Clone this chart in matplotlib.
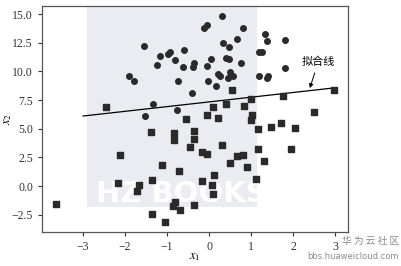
import numpy as np
import matplotlib
matplotlib.use("Agg")
import matplotlib.pyplot as plt
from matplotlib.patches import Rectangle

plt.rcParams['font.family'] = ['Liberation Serif', 'Noto Sans CJK SC']
plt.rcParams['mathtext.fontset'] = 'stix'

# class 1 samples (circles)
x1_pos = [-1.55, -1.90, -1.78, -1.53, -1.33, -1.25, -1.18, -0.98, -0.92, -0.80,
          -0.75, -0.63, -0.60, -0.77, -0.41, -0.36, -0.38, 0.30, -0.04, -0.12,
          0.80, 0.66, 0.33, 0.47, 0.40, 0.48, 0.05, 0.75, -0.05, 0.21,
          0.26, 0.51, 0.56, 0.44, -0.02, 0.17, 1.33, 1.39, 1.81, 1.20,
          1.25, 1.81, 1.20, 1.40, 1.37]
x2_pos = [12.2, 9.64, 9.2, 6.1, 7.17, 10.6, 11.35, 11.55, 11.65, 11.0,
          9.15, 10.37, 11.85, 6.62, 8.1, 10.74, 10.39, 14.8, 14.08, 13.82,
          13.78, 12.86, 12.48, 12.1, 11.15, 11.04, 11.09, 10.74, 10.48, 9.76,
          9.58, 9.99, 9.58, 9.41, 9.12, 8.77, 13.27, 12.69, 12.74, 11.67,
          11.67, 10.34, 9.64, 9.58, 9.41]

# class 0 samples (squares)
x1_neg = [-2.45, -0.55, 0.54, 0.40, 0.84, 0.10, -0.05, 0.22, 2.98, 1.77,
          0.99, 2.51, 1.03, 0.99, 1.17, 1.47, 1.71, 2.04, 0.32, -0.17,
          -0.05, 0.67, 0.82, 0.50, 1.16, 0.90, 1.32, 1.95, 0.12, -0.17,
          0.08, 0.09, 1.12, -1.39, -0.84, -0.84, -0.37, -0.37, -0.45, -1.11,
          -0.71, -1.36, -0.81, -0.86, -0.69, -0.36, -1.35, -1.06, -2.12, -2.17,
          -1.67, -1.71, -3.64]
x2_neg = [6.9, 5.84, 8.36, 7.2, 7.0, 6.86, 6.16, 5.95, 8.42, 7.84,
          7.6, 6.5, 6.16, 5.8, 5.0, 5.14, 5.46, 5.08, 3.6, 2.99,
          2.76, 2.64, 2.73, 2.03, 3.2, 1.66, 2.18, 3.2, 0.98, 0.46,
          0.14, -0.65, 0.58, 4.7, 4.6, 4.0, 4.82, 4.07, 3.4, 1.8,
          1.28, 0.5, -1.39, -1.74, -2.09, -1.63, -2.41, -3.16, 2.73, 0.26,
          0.06, -0.41, -1.57]

# fitted boundary line y = b + w * x
w = 0.41
b = 7.34
line_x = np.linspace(-3, 3, 50)
line_y = b + w * line_x

fig = plt.figure(figsize=(4.01, 2.66), dpi=100)
ax = fig.add_axes([0.1047, 0.1278, 0.7631, 0.8496])

# background logo panel, drawn under the points
ax.add_patch(Rectangle((87 / 401, 1 - 207 / 266), 170 / 401, 201 / 266,
                       transform=fig.transFigure, facecolor='#ebebf2',
                       edgecolor='none', zorder=0, clip_on=False))
ax.text(0.455, 0.17, 'HZ BOOKS', transform=ax.transAxes, color='white',
        fontsize=21, fontweight='bold', family='DejaVu Sans',
        ha='center', va='center', zorder=1)

ax.scatter(x1_pos, x2_pos, marker='o', s=16, color='#2a2a2a', zorder=3)
ax.scatter(x1_neg, x2_neg, marker='s', s=16, color='#2a2a2a', zorder=3)
ax.plot(line_x, line_y, color='black', linewidth=0.9, zorder=2)

ax.annotate('拟合线', xy=(2.38, b + w * 2.38), xytext=(2.6, 10.8),
            fontsize=8, family='Noto Sans CJK SC', ha='center', va='center',
            arrowprops=dict(arrowstyle='-|>', color='black', lw=0.7, mutation_scale=6))

ax.set_xlim(-3.98, 3.31)
ax.set_ylim(-4.0, 15.7)
ax.set_yticks([-2.5, 0.0, 2.5, 5.0, 7.5, 10.0, 12.5, 15.0])
ax.set_xlabel('$x_1$', fontsize=9)
ax.set_ylabel('$x_2$', fontsize=9)
ax.xaxis.set_label_coords(0.5, -0.085)
ax.yaxis.set_label_coords(-0.09, 0.5)
ax.tick_params(labelsize=8.5, length=3, width=0.8, colors='#333333')
for sp in ax.spines.values():
    sp.set_color('#555555')
    sp.set_linewidth(0.9)

fig.text(0.925, 0.095, '华 为 云 社 区', color='#8a8a8a', fontsize=7,
         family='Noto Sans CJK SC', ha='center', va='center')
fig.text(0.88, 0.035, 'bbs.huaweicloud.com', color='#8a8a8a', fontsize=6,
         family='DejaVu Sans', ha='center', va='center')

fig.savefig('out.png', dpi=100)
